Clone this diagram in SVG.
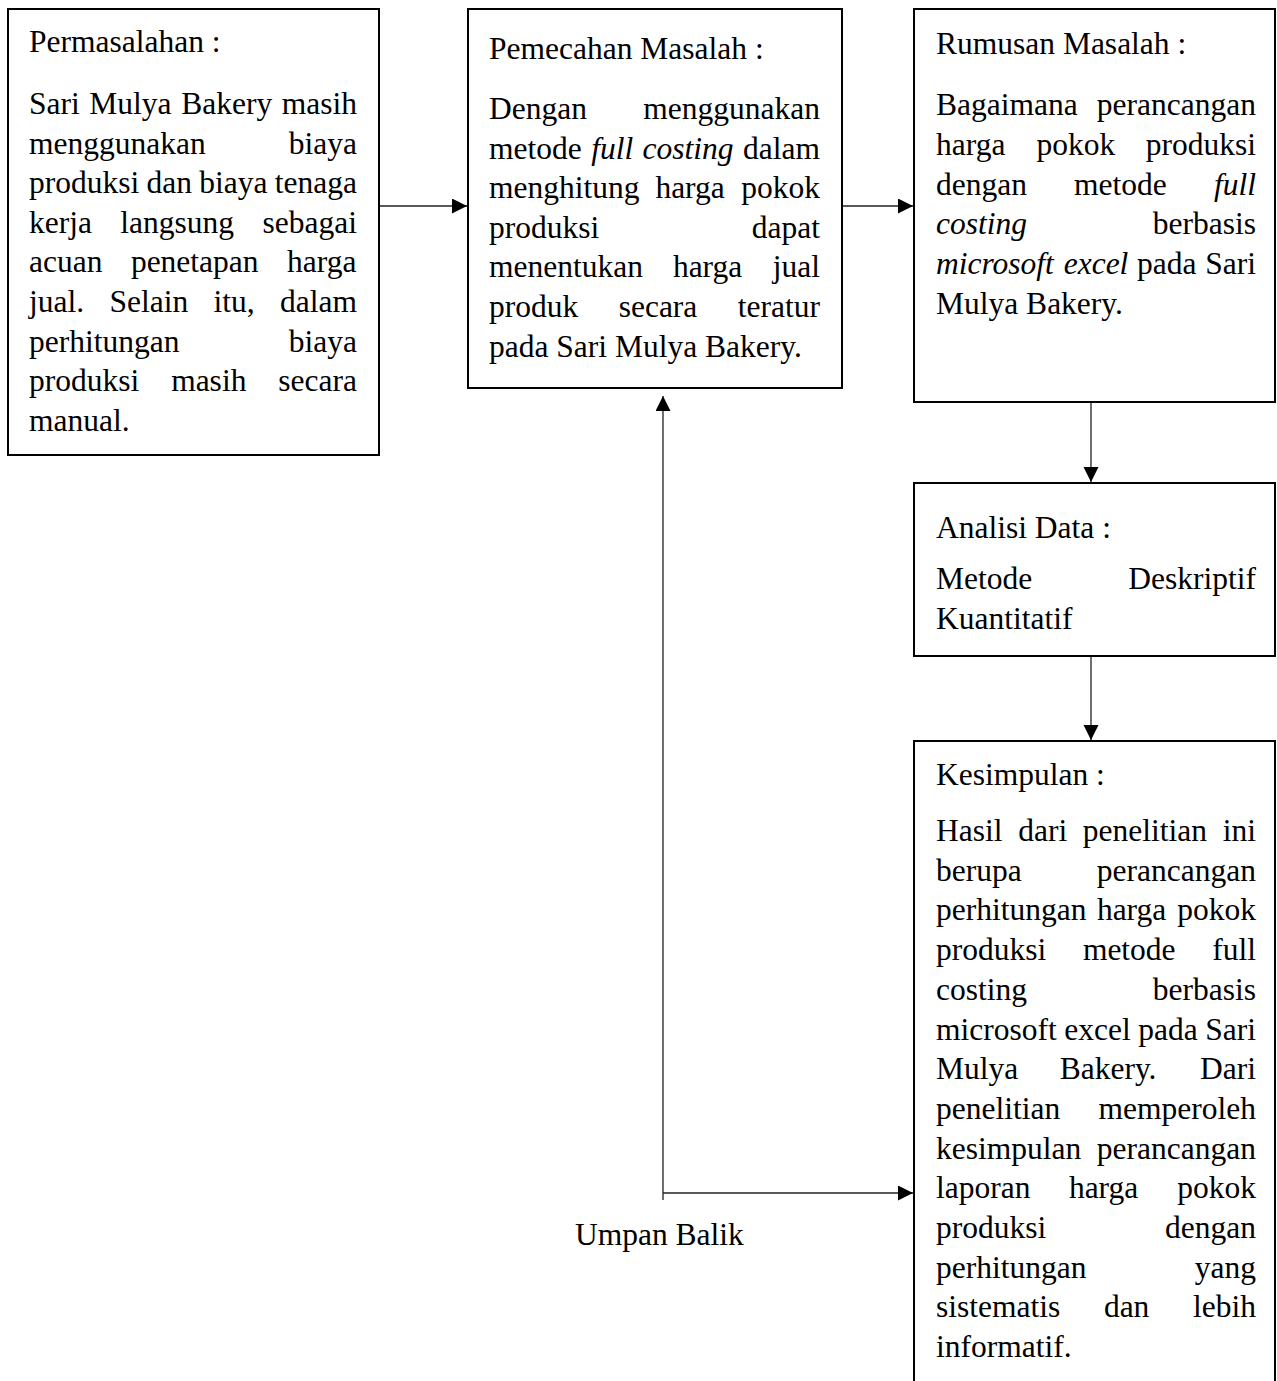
<svg xmlns="http://www.w3.org/2000/svg" width="1277" height="1381" viewBox="0 0 1277 1381">
<style>
.box{fill:#fff;stroke:#000;stroke-width:2}
.t{font-family:"Liberation Serif","Times New Roman",serif;font-size:31.5px;fill:#000}
.i{font-style:italic}
.c{fill:none;stroke:#222;stroke-width:1.3}
</style>
<defs>
<marker id="ah" markerUnits="userSpaceOnUse" markerWidth="16" markerHeight="16" refX="15" refY="7.5" orient="auto">
<path d="M0,0 L15,7.5 L0,15 Z" fill="#000"/>
</marker>
</defs>
<rect width="1277" height="1381" fill="#fff"/>

<g id="connectors">
<line class="c" x1="379" y1="206" x2="467" y2="206" marker-end="url(#ah)"/>
<line class="c" x1="842" y1="206" x2="913" y2="206" marker-end="url(#ah)"/>
<line class="c" x1="1091" y1="403" x2="1091" y2="482" marker-end="url(#ah)"/>
<line class="c" x1="1091" y1="657" x2="1091" y2="740" marker-end="url(#ah)"/>
<line class="c" x1="663" y1="1200" x2="663" y2="396" marker-end="url(#ah)"/>
<line class="c" x1="663" y1="1193" x2="913" y2="1193" marker-end="url(#ah)"/>
<text class="t" x="575" y="1245">Umpan Balik</text>
</g>

<g id="permasalahan">
<rect class="box" x="8" y="9" width="371" height="446"/>
<text class="t" x="29" y="52">Permasalahan :</text>
<text class="t" y="114"><tspan x="29">Sari</tspan><tspan x="89.35">Mulya</tspan><tspan x="181.2">Bakery</tspan><tspan x="281.75">masih</tspan></text>
<text class="t" y="153.6"><tspan x="29">menggunakan</tspan><tspan x="288.77">biaya</tspan></text>
<text class="t" y="193.2"><tspan x="29">produksi</tspan><tspan x="146.52">dan</tspan><tspan x="199.28">biaya</tspan><tspan x="274.78">tenaga</tspan></text>
<text class="t" y="232.8"><tspan x="29">kerja</tspan><tspan x="120.37">langsung</tspan><tspan x="262.53">sebagai</tspan></text>
<text class="t" y="272.4"><tspan x="29">acuan</tspan><tspan x="130.9">penetapan</tspan><tspan x="287.04">harga</tspan></text>
<text class="t" y="312"><tspan x="29">jual.</tspan><tspan x="109.46">Selain</tspan><tspan x="213.54">itu,</tspan><tspan x="280.01">dalam</tspan></text>
<text class="t" y="351.6"><tspan x="29">perhitungan</tspan><tspan x="288.77">biaya</tspan></text>
<text class="t" y="391.2"><tspan x="29">produksi</tspan><tspan x="171.15">masih</tspan><tspan x="278.31">secara</tspan></text>
<text class="t" x="29" y="430.8">manual.</text>
</g>

<g id="pemecahan">
<rect class="box" x="468" y="9" width="374" height="379"/>
<text class="t" x="489" y="59">Pemecahan Masalah :</text>
<text class="t" y="119"><tspan x="489">Dengan</tspan><tspan x="643.28">menggunakan</tspan></text>
<text class="t" y="158.6"><tspan x="489">metode</tspan><tspan class="i" x="591.16">full</tspan><tspan class="i" x="642.6">costing</tspan><tspan x="743.01">dalam</tspan></text>
<text class="t" y="198.2"><tspan x="489">menghitung</tspan><tspan x="655.4">harga</tspan><tspan x="741.25">pokok</tspan></text>
<text class="t" y="237.8"><tspan x="489">produksi</tspan><tspan x="751.77">dapat</tspan></text>
<text class="t" y="277.4"><tspan x="489">menentukan</tspan><tspan x="672.88">harga</tspan><tspan x="772.75">jual</tspan></text>
<text class="t" y="317"><tspan x="489">produk</tspan><tspan x="618.67">secara</tspan><tspan x="737.78">teratur</tspan></text>
<text class="t" x="489" y="356.6">pada Sari Mulya Bakery.</text>
</g>

<g id="rumusan">
<rect class="box" x="914" y="9" width="361" height="393"/>
<text class="t" x="936" y="54">Rumusan Masalah :</text>
<text class="t" y="115"><tspan x="936">Bagaimana</tspan><tspan x="1096.83">perancangan</tspan></text>
<text class="t" y="154.8"><tspan x="936">harga</tspan><tspan x="1036.48">pokok</tspan><tspan x="1145.75">produksi</tspan></text>
<text class="t" y="194.6"><tspan x="936">dengan</tspan><tspan x="1074.1">metode</tspan><tspan class="i" x="1213.98">full</tspan></text>
<text class="t" y="234.4"><tspan class="i" x="936">costing</tspan><tspan x="1152.77">berbasis</tspan></text>
<text class="t" y="274.2"><tspan class="i" x="936">microsoft</tspan><tspan class="i" x="1063.69">excel</tspan><tspan x="1137.08">pada</tspan><tspan x="1205.25">Sari</tspan></text>
<text class="t" x="936" y="314">Mulya Bakery.</text>
</g>

<g id="analisis">
<rect class="box" x="914" y="483" width="361" height="173"/>
<text class="t" x="936" y="537.7">Analisi Data :</text>
<text class="t" y="589"><tspan x="936">Metode</tspan><tspan x="1128.27">Deskriptif</tspan></text>
<text class="t" x="936" y="628.6">Kuantitatif</text>
</g>

<g id="kesimpulan">
<rect class="box" x="914" y="741" width="361" height="680"/>
<text class="t" x="936" y="785">Kesimpulan :</text>
<text class="t" y="841"><tspan x="936">Hasil</tspan><tspan x="1018.17">dari</tspan><tspan x="1082.82">penelitian</tspan><tspan x="1222.74">ini</tspan></text>
<text class="t" y="880.7"><tspan x="936">berupa</tspan><tspan x="1096.83">perancangan</tspan></text>
<text class="t" y="920.4"><tspan x="936">perhitungan</tspan><tspan x="1096.88">harga</tspan><tspan x="1177.25">pokok</tspan></text>
<text class="t" y="960.1"><tspan x="936">produksi</tspan><tspan x="1082.88">metode</tspan><tspan x="1212.25">full</tspan></text>
<text class="t" y="999.8"><tspan x="936">costing</tspan><tspan x="1152.77">berbasis</tspan></text>
<text class="t" y="1039.5"><tspan x="936">microsoft</tspan><tspan x="1064.26">excel</tspan><tspan x="1138.25">pada</tspan><tspan x="1205.25">Sari</tspan></text>
<text class="t" y="1079.2"><tspan x="936">Mulya</tspan><tspan x="1059.71">Bakery.</tspan><tspan x="1200.02">Dari</tspan></text>
<text class="t" y="1118.9"><tspan x="936">penelitian</tspan><tspan x="1098.53">memperoleh</tspan></text>
<text class="t" y="1158.6"><tspan x="936">kesimpulan</tspan><tspan x="1096.83">perancangan</tspan></text>
<text class="t" y="1198.3"><tspan x="936">laporan</tspan><tspan x="1068.88">harga</tspan><tspan x="1177.25">pokok</tspan></text>
<text class="t" y="1238"><tspan x="936">produksi</tspan><tspan x="1165.03">dengan</tspan></text>
<text class="t" y="1277.7"><tspan x="936">perhitungan</tspan><tspan x="1194.76">yang</tspan></text>
<text class="t" y="1317.4"><tspan x="936">sistematis</tspan><tspan x="1103.89">dan</tspan><tspan x="1193">lebih</tspan></text>
<text class="t" x="936" y="1357.1">informatif.</text>
</g>
</svg>
